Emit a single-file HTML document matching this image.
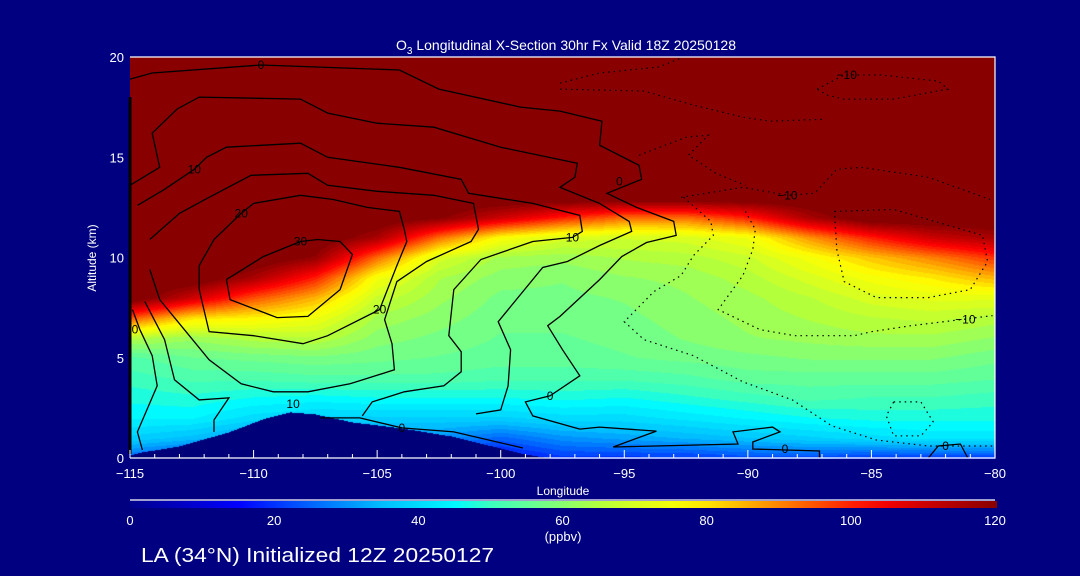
<!DOCTYPE html>
<html><head><meta charset="utf-8"><style>
html,body{margin:0;padding:0;background:#000080;}
#wrap{position:relative;width:1080px;height:576px;overflow:hidden;background:#000080;font-family:"Liberation Sans",sans-serif;}
canvas{position:absolute;left:130px;top:57px;}
svg{position:absolute;left:0;top:0;}
</style></head><body>
<div id="wrap">
<canvas id="field" width="865" height="402"></canvas>
<svg id="ov" width="1080" height="576">
<defs><linearGradient id="cbg" x1="0" x2="1" y1="0" y2="0"></linearGradient></defs>
<text x="566" y="50" fill="#fff" font-size="14" text-anchor="middle">O<tspan font-size="10" dy="4">3</tspan><tspan dy="-4"> Longitudinal X-Section 30hr  Fx Valid 18Z 20250128</tspan></text>
<text x="563" y="495" fill="#fff" font-size="12" text-anchor="middle">Longitude</text>
<text transform="translate(96,258) rotate(-90)" fill="#fff" font-size="12" text-anchor="middle">Altitude (km)</text>
<text x="563" y="541" fill="#fff" font-size="13" text-anchor="middle">(ppbv)</text>
<text x="141" y="562" fill="#fff" font-size="20" textLength="353" lengthAdjust="spacingAndGlyphs">LA (34°N) Initialized 12Z 20250127</text>
<g id="g-terrain"></g><g id="g-contours"></g><g id="g-labels"></g><g id="g-axes"></g><g id="g-cbar"></g>
</svg>
</div>
<script>
// ---- data ----
const lons = [-115,-112.5,-110,-107.5,-105,-102.5,-100,-97.5,-95,-92.5,-90,-87.5,-85,-82.5,-80];
const alts = [0,1,2,3,4,5,6,7,8,9,10,11,12,13,14,15,16,17,18,19,20];
const col0 = [25,38,44,47,50,53,65,95,125];
const col1 = [20,35,44,48,52,56,62,80,110,125];
const col2 = [20,30,40,46,52,57,65,78,95,115,125];
const col3 = [20,30,38,45,53,58,66,74,85,100,118,125];
const col4 = [20,30,38,46,53,57,60,63,68,75,92,115,125];
const col5 = [20,30,38,46,53,56,58,60,62,64,70,92,120,125];
const col6 = [15,25,38,46,52,55,56,57,58,60,63,76,110,125];
const col7 = [20,30,40,47,52,55,56,57,58,59,62,70,100,125];
const col8 = [20,32,40,46,52,56,57,58,59,61,64,69,92,125];
const col9 = [20,34,42,48,53,57,59,60,61,62,65,70,92,125];
const col10 = [22,36,44,50,55,58,61,62,63,65,68,74,100,125];
const col11 = [22,38,46,52,55,59,62,64,66,70,75,88,115,125];
const col12 = [20,40,47,51,55,59,63,66,70,75,83,100,125];
const col13 = [20,42,47,51,55,59,63,67,72,79,90,110,125];
const col14 = [20,42,47,50,54,57,61,65,72,85,98,115,125];
const terrainLon = [-115,-114.5,-113,-111,-109.5,-108.5,-107.5,-106,-104,-102,-100,-99,-98,-80];
const terrainAlt = [0.15,0.3,0.6,1.3,2.0,2.3,2.2,1.8,1.5,1.1,0.5,0.2,0,0];
const xTicks = [-115,-110,-105,-100,-95,-90,-85,-80];
const xTickLabels = ["\u2212115","\u2212110","\u2212105","\u2212100","\u221295","\u221290","\u221285","\u221280"];
const yTicks = [0,5,10,15,20];
const cbarTicks = [0,20,40,60,80,100,120];
// contours: [lon,alt] pairs
const cZeroTop = [[-115,18.9],[-114.1,19.2],[-109.7,19.6],[-104.1,19.35],[-102.5,18.4],[-99.2,17.5],[-97.6,17.3],[-95.9,16.8],[-96,15.6],[-94.4,14.6],[-94.3,13.9],[-95.7,13.2],[-94.5,12.5],[-93,11.8],[-92.9,11.1],[-94.1,10.75],[-95.1,10.05],[-96,8.9],[-97.6,7.06],[-98.1,6.6],[-97.5,5.4],[-96.8,4.1],[-98,3.1],[-99,2.8],[-98.7,2.1],[-96.8,1.44],[-96,1.54],[-93.7,1.34],[-95.45,0.55],[-90.4,0.7],[-90.6,1.3],[-89,1.54],[-88.7,1.3],[-89.8,0.8],[-89.8,0.45],[-87.1,0.35],[-87.1,0]];
const cTen1 = [[-115,13.6],[-113.8,14.5],[-114.1,16.2],[-113.1,17.4],[-112.2,18],[-108.1,17.9],[-107,17.2],[-105,16.7],[-102.7,16.5],[-100,15.5],[-96.9,14.7],[-97,14],[-97.6,13.5],[-96,12.7],[-94.8,11.8],[-94.7,11.3],[-96,10.6],[-97.3,9.8],[-98.3,9.5],[-100.1,6.8],[-99.6,5.4],[-99.7,3.6],[-100,2.4],[-101,2.2]];
const cTen2 = [[-114.7,12.6],[-113.6,13.4],[-112.4,14.4],[-111.9,15],[-111.1,15.5],[-108.1,15.7],[-107,15],[-104.1,14.5],[-101.6,13.9],[-101.3,13.2],[-98.7,12.7],[-96.8,12.1],[-96.7,11.3],[-97.1,11],[-98.7,10.8],[-100.8,9.9],[-101.9,8.4],[-102.1,6.1],[-101.6,5.3],[-101.6,4.3],[-102.3,3.6],[-103.9,3.3],[-105.2,2.8],[-105.6,2.1]];
const cTwenty1 = [[-114.2,10.9],[-113,12.2],[-111.8,13],[-110.1,14.1],[-107.8,14.2],[-107,13.6],[-105,13.3],[-102.7,13.1],[-101.1,12.7],[-100.9,11.4],[-101.2,10.8],[-103,9.8],[-104.2,8.8],[-104.7,6.9],[-104.4,5.7],[-104.3,4.4],[-106.1,3.7],[-107.8,3.3],[-109.2,3.3],[-110.5,3.7],[-111.8,4.9],[-112.8,6.4],[-113.8,7.9],[-114.2,9.4]];
const cTwenty2 = [[-110,12.7],[-108.1,13.1],[-106.8,12.9],[-105.4,12.5],[-104.1,12.3],[-103.9,11.4],[-103.8,10.8],[-104.2,9.6],[-104.9,7.4],[-107,6.1],[-108,5.7],[-110,6.1],[-111.8,6.3],[-112.2,8.4],[-112.2,9.6],[-111.6,10.9],[-110.5,12.2],[-110,12.7]];
const cThirty = [[-111.1,8.9],[-110.95,7.9],[-109.05,7],[-107.8,7.06],[-106.5,8.4],[-106,10.15],[-106.5,10.8],[-107.4,10.9],[-108.1,10.8],[-109.6,10.05],[-111.1,8.9]];
const cLeftZero = [[-114.9,7.4],[-114.6,6.4],[-114.1,5.1],[-113.9,3.6],[-114.7,1.3],[-114.5,0.4]];
const cLeftTen = [[-114.4,7.8],[-113.6,5.9],[-113.2,3.9],[-112.2,2.9],[-111,3],[-111.6,1.9],[-111.6,1.3]];
const cLowZero = [[-107.3,2],[-105.7,2],[-104,1.5],[-101.9,1.3],[-99.1,0.5]];
const cRightZero = [[-82.7,0],[-82.3,0.6],[-81.4,0.7],[-81.1,0]];
const dTopLoop = [[-87.2,18.4],[-86.1,19.1],[-84.6,19.1],[-82.3,18.8],[-81.9,18.4],[-84.1,17.9],[-86.1,17.9],[-86.8,18.1],[-87.2,18.4]];
const dTop1 = [[-97.6,18.7],[-96,19.2],[-93.6,19.5],[-92.6,20]];
const dTop2 = [[-97.6,18.4],[-94.2,18.3],[-92.2,17.6],[-90.2,17],[-89.1,16.8],[-86.9,16.9]];
const dMid = [[-94.4,15.1],[-92.5,16],[-91.6,16.1],[-92.4,15.1],[-91.3,14.2],[-90.1,13.6]];
const dUpper = [[-92.7,13],[-90.2,13.5],[-88.4,13.1],[-87.3,13.2],[-86.4,14.4],[-85.4,14.5],[-82.7,14],[-80.2,12.9]];
const dRun1 = [[-92.6,13],[-91.5,11.8],[-91.4,11.1],[-92.2,10.1],[-92.7,9.1],[-93.8,8.3],[-95,6.8],[-94.2,5.9],[-92.2,5.1],[-90.2,3.8],[-88.2,2.9],[-86.6,1.6],[-84.8,0.9],[-82.7,0.6],[-80.1,0.6]];
const dRun2 = [[-90.1,12.3],[-89.7,11.4],[-89.8,10.4],[-90.2,9.1],[-91.2,7.4],[-89.5,6.4],[-88.1,6.1],[-85.7,6.1],[-85,6.3],[-83.4,6.6],[-81.4,6.9],[-80.1,7.1]];
const dLoop2 = [[-86.5,12.3],[-84.1,12.4],[-80.5,11.1],[-80.3,9.8],[-81,8.4],[-82.7,8],[-84.8,8],[-86.1,8.8],[-86.4,10.4],[-86.5,12.3]];
const dLoop3 = [[-84.1,2.8],[-83,2.8],[-82.5,1.8],[-83,1.1],[-84.1,1.1],[-84.4,2.1],[-84.1,2.8]];
const labelText = ["0","10","20","30","20","10","0","10","0","0","0","\u221210","\u221210","\u221210","0","0"];
const labelLon = [-109.7,-112.4,-110.5,-108.1,-104.9,-97.1,-98,-108.4,-104,-114.8,-95.2,-86,-88.4,-81.2,-88.5,-82];
const labelAlt = [19.6,14.4,12.2,10.8,7.4,11,3.1,2.7,1.5,6.4,13.8,19.1,13.1,6.9,0.45,0.6];

// ---- axes ----
const X0=130,X1=995,Y0=458,Y1=57;
function xs(lon){return X0+(lon+115)/35*(X1-X0);}
function ys(a){return Y0-a/20*(Y0-Y1);}

const cols=[col0,col1,col2,col3,col4,col5,col6,col7,col8,col9,col10,col11,col12,col13,col14];
function cv(ci,ai){const c=cols[ci];return ai<c.length?c[ai]:125;}
function field(lon,a){
  let fi=(lon-lons[0])/(lons[1]-lons[0]); fi=Math.max(0,Math.min(lons.length-1.0001,fi));
  let fj=(a-alts[0])/(alts[1]-alts[0]); fj=Math.max(0,Math.min(alts.length-1.0001,fj));
  const i=Math.floor(fi),j=Math.floor(fj),u=fi-i,v=fj-j;
  return cv(i,j)*(1-u)*(1-v)+cv(i+1,j)*u*(1-v)+cv(i,j+1)*(1-u)*v+cv(i+1,j+1)*u*v;
}
function terrain(lon){
  for(let k=0;k<terrainLon.length-1;k++){
    if(lon>=terrainLon[k]&&lon<=terrainLon[k+1]){const t=(lon-terrainLon[k])/(terrainLon[k+1]-terrainLon[k]);return terrainAlt[k]+t*(terrainAlt[k+1]-terrainAlt[k]);}
  }
  return 0;
}
const stops=[[0,0,0,140],[8,0,0,200],[15,0,0,255],[25,0,100,255],[35,0,190,255],[45,0,250,255],[50,60,255,190],[58,120,255,130],[65,180,255,60],[72,230,255,20],[77,255,255,0],[85,255,180,0],[95,255,80,0],[103,255,0,0],[112,190,0,0],[120,136,0,0]];
function cmap(v){
  if(v<=stops[0][0])return stops[0].slice(1);
  for(let k=0;k<stops.length-1;k++){if(v<=stops[k+1][0]){const t=(v-stops[k][0])/(stops[k+1][0]-stops[k][0]);return [0,1,2].map(q=>stops[k][q+1]+t*(stops[k+1][q+1]-stops[k][q+1]));}}
  return stops[stops.length-1].slice(1);
}
// ---- render field ----
const cv_=document.getElementById('field'),ctx=cv_.getContext('2d');
const W=cv_.width,H=cv_.height,img=ctx.createImageData(W,H);
for(let py=0;py<H;py++){
  const a=(Y0-(py+Y1))/(Y0-Y1)*20;
  for(let px=0;px<W;px++){
    const lon=-115+(px+0.5)/(X1-X0)*35;
    let r,g,b;
    if(a<terrain(lon)){r=0;g=0;b=120;}
    else{let v=field(lon,a);v=Math.round(v/2.5)*2.5;[r,g,b]=cmap(v);}
    const o=(py*W+px)*4;img.data[o]=r;img.data[o+1]=g;img.data[o+2]=b;img.data[o+3]=255;
  }
}
ctx.putImageData(img,0,0);

const NS='http://www.w3.org/2000/svg';
function mk(tag,attrs,parent){const e=document.createElementNS(NS,tag);for(const k in attrs)e.setAttribute(k,attrs[k]);parent.appendChild(e);return e;}
function pts(arr){return arr.map(p=>xs(p[0]).toFixed(1)+','+ys(p[1]).toFixed(1)).join(' ');}

// contours
const gc=document.getElementById('g-contours');
const solids=[cZeroTop,cTen1,cTen2,cTwenty1,cTwenty2,cThirty,cLeftZero,cLeftTen,cLowZero,cRightZero];
solids.forEach((c,i)=>{
  const e=mk('polyline',{points:pts(c),fill:'none',stroke:'#000','stroke-width':1.3},gc);
  
  
});
const dotted=[dTopLoop,dTop1,dTop2,dMid,dUpper,dRun1,dRun2,dLoop2,dLoop3];
dotted.forEach((c,i)=>{
  const e=mk('polyline',{points:pts(c),fill:'none',stroke:'#000','stroke-width':1.2,'stroke-dasharray':'1.5 4'},gc);
  
  
});
const gl=document.getElementById('g-labels');
labelText.forEach((t,i)=>{
  const e=mk('text',{x:xs(labelLon[i]),y:ys(labelAlt[i])+4,fill:'#000','font-size':12,'text-anchor':'middle'},gl);
  e.textContent=t;
  
  
});
// left edge black line
const le=mk('line',{x1:X0,y1:Y1+40,x2:X0,y2:Y0-4,stroke:'#000','stroke-width':3},gc);



// axes
const ga=document.getElementById('g-axes');
const frame=mk('path',{d:`M${X0},${Y1}H${X1}V${Y0}H${X0}`,fill:'none',stroke:'#fff','stroke-width':1.2},ga);


for(let l=-115;l<=-80;l++){
  const major=(l%5===0);
  const t=mk('line',{x1:xs(l),x2:xs(l),y1:Y0,y2:Y0-(major?8:4),stroke:'#fff','stroke-width':1},ga);
  
  
}
xTicks.forEach((l,i)=>{
  const e=mk('text',{x:xs(l),y:Y0+20,fill:'#fff','font-size':13,'text-anchor':'middle'},ga);
  e.textContent=xTickLabels[i];
  
  
});
yTicks.forEach(a=>{
  const e=mk('text',{x:124,y:ys(a)+5,fill:'#fff','font-size':13,'text-anchor':'end'},ga);
  e.textContent=a;
  
  
});

// colorbar
const grad=document.getElementById('cbg');
for(let v=0;v<=120;v+=5){const c=cmap(v);mk('stop',{offset:(v/120),'stop-color':`rgb(${c.map(Math.round).join(',')})`},grad);}
const gb=document.getElementById('g-cbar');
const cbl=mk('line',{x1:130,x2:995,y1:500,y2:500,stroke:'#fff','stroke-width':1.2},gb);


const cbr=mk('rect',{x:130,y:501,width:867,height:7,fill:'url(#cbg)'},gb);


cbarTicks.forEach(v=>{
  const e=mk('text',{x:130+v/120*865,y:525,fill:'#fff','font-size':13,'text-anchor':'middle'},gb);
  e.textContent=v;
  
  
});
</script>
</body></html>
